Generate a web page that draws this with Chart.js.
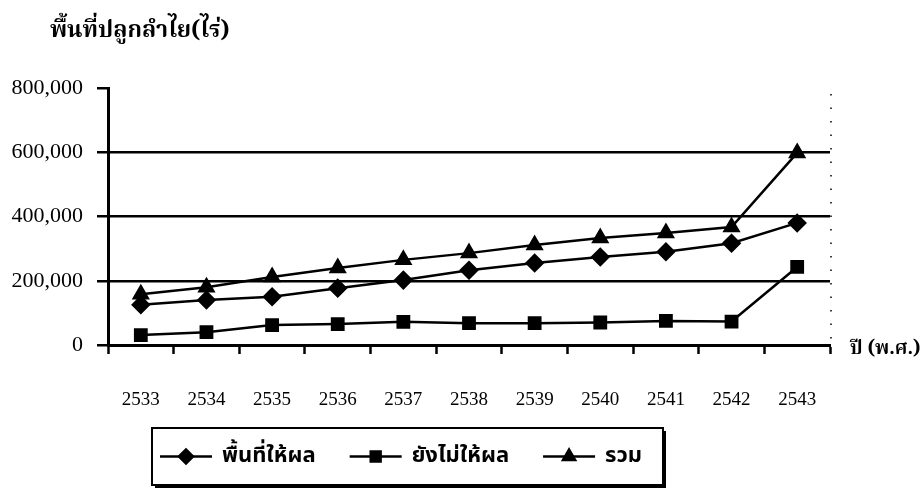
<!DOCTYPE html>
<html>
<head>
<meta charset="utf-8">
<script src="https://cdn.jsdelivr.net/npm/chart.js@4.4.1/dist/chart.umd.min.js"></script>
<style>
  html, body { margin: 0; padding: 0; background: #fff; }
  #wrap { width: 923px; height: 495px; position: relative; }
</style>
</head>
<body>
<div id="wrap"><canvas id="chart"></canvas></div>
<script>
// data (rai)
const years = ['2533', '2534', '2535', '2536', '2537', '2538', '2539', '2540', '2541', '2542', '2543'];
const bearing = [125000, 140000, 150000, 177000, 202000, 233000, 255000, 274000, 290000, 317000, 380000];
const notBearing = [31000, 40000, 62000, 65000, 72000, 68000, 68000, 70000, 75000, 73000, 243000];
const total = [158000, 180000, 212000, 240000, 265000, 286000, 311000, 333000, 349000, 367000, 598000];
const seriesNames = ['พื้นที่ให้ผล', 'ยังไม่ให้ผล', 'รวม'];
const yTitle = 'พื้นที่ปลูกลำไย(ไร่)';
const xTitle = 'ปี (พ.ศ.)';

const thaiSerif = 'Norasi, "Noto Serif Thai", "Tlwg Typo", "Noto Sans Thai", serif';
const thaiSans = '"Noto Sans Thai", Loma, Garuda, sans-serif';
const numFont = '"Liberation Serif", "DejaVu Serif", serif';

const decor = {
    id: 'decor',
    afterDraw(chart) {
        const ctx = chart.ctx;
        const a = chart.chartArea;
        ctx.save();

        // dotted right edge of plot
        ctx.strokeStyle = '#000';
        ctx.lineWidth = 1.5;
        ctx.setLineDash([1.5, 12]);
        ctx.beginPath();
        ctx.moveTo(a.right + 1, a.top + 6);
        ctx.lineTo(a.right + 1, a.bottom - 4);
        ctx.stroke();
        ctx.setLineDash([]);

        // titles
        ctx.fillStyle = '#000';
        ctx.textBaseline = 'middle';
        ctx.font = 'bold 23px ' + thaiSerif;
        ctx.fillText(yTitle, 50, 33);
        ctx.font = 'bold 19px ' + thaiSerif;
        ctx.fillText(xTitle, a.right + 20, a.bottom + 6);

        // legend box with shadow
        const bx = 152, by = 428, bw = 511, bh = 57;
        ctx.fillRect(bx + 3, by + 3, bw, bh);
        ctx.fillStyle = '#fff';
        ctx.fillRect(bx, by, bw, bh);
        ctx.strokeStyle = '#000';
        ctx.lineWidth = 2;
        ctx.strokeRect(bx, by, bw, bh);

        ctx.font = 'bold 22px ' + thaiSans;
        const cy = by + bh / 2;
        let x = bx + 8;
        chart.data.datasets.forEach(ds => {
            ctx.strokeStyle = '#000';
            ctx.fillStyle = '#000';
            ctx.lineWidth = 2.5;
            ctx.beginPath();
            ctx.moveTo(x, cy);
            ctx.lineTo(x + 52, cy);
            ctx.stroke();
            Chart.helpers.drawPoint(ctx, {
                pointStyle: ds.pointStyle, rotation: 0,
                radius: ds.pointRadius - 1, borderWidth: 1
            }, x + 26, cy);
            ctx.fillText(ds.label, x + 62, cy + 1);
            x += 62 + ctx.measureText(ds.label).width + 34;
        });
        ctx.restore();
    }
};

const common = {
    borderColor: '#000',
    backgroundColor: '#000',
    pointBackgroundColor: '#000',
    pointBorderColor: '#000',
    borderWidth: 2.5,
    tension: 0
};

new Chart(document.getElementById('chart'), {
    type: 'line',
    data: {
        labels: years,
        datasets: [
            { ...common, label: seriesNames[0], data: bearing, pointStyle: 'rectRot', pointRadius: 8 },
            { ...common, label: seriesNames[1], data: notBearing, pointStyle: 'rect', pointRadius: 8 },
            { ...common, label: seriesNames[2], data: total, pointStyle: 'triangle', pointRadius: 8 }
        ]
    },
    options: {
        responsive: true,
        maintainAspectRatio: false,
        animation: false,
        layout: { padding: { top: 88, right: 93, left: 0, bottom: 0 } },
        plugins: { legend: { display: false }, tooltip: { enabled: false } },
        scales: {
            x: {
                offset: true,
                afterFit(scale) { scale.height = 150; },
                border: { display: true, color: '#000', width: 3 },
                grid: {
                    offset: true,
                    drawOnChartArea: false,
                    drawTicks: true,
                    tickLength: 9,
                    tickColor: '#000',
                    tickWidth: 2.5
                },
                ticks: {
                    color: '#000',
                    padding: 35,
                    maxRotation: 0,
                    font: { family: numFont, size: 19 }
                }
            },
            y: {
                min: 0,
                max: 800000,
                afterFit(scale) { scale.width = 108; },
                border: { display: true, color: '#000', width: 3 },
                grid: {
                    color: ctx => (ctx.tick && ctx.tick.value === 800000) ? 'rgba(0,0,0,0)' : '#000',
                    lineWidth: 2.5,
                    tickColor: '#000',
                    tickLength: 11,
                    tickWidth: 2.5
                },
                ticks: {
                    stepSize: 200000,
                    color: '#000',
                    padding: 14,
                    font: { family: numFont, size: 22 },
                    callback: v => v.toLocaleString('en-US')
                }
            }
        }
    },
    plugins: [decor]
});
</script>
</body>
</html>
